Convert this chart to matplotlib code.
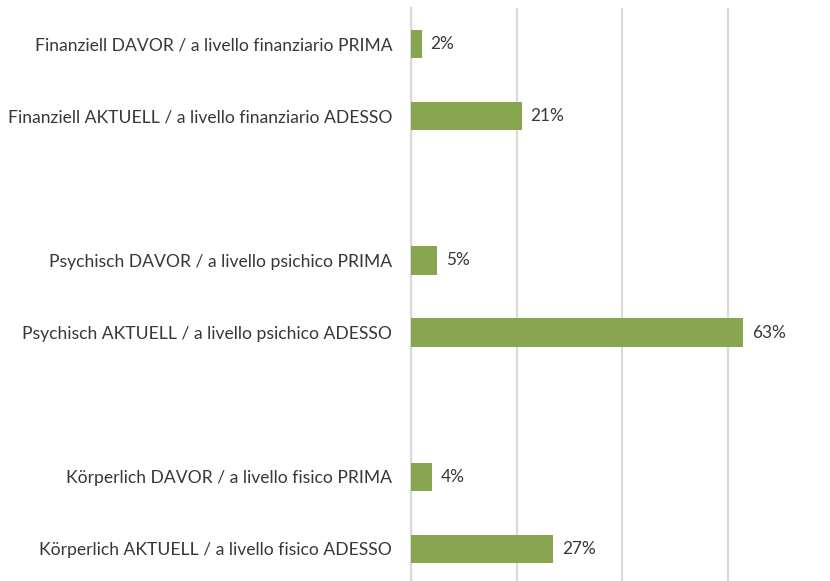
import matplotlib
matplotlib.use("Agg")
import matplotlib.pyplot as plt

categories = [
    "Finanziell DAVOR / a livello finanziario PRIMA",
    "Finanziell AKTUELL / a livello finanziario ADESSO",
    "",
    "Psychisch DAVOR / a livello psichico PRIMA",
    "Psychisch AKTUELL / a livello psichico ADESSO",
    "",
    "Körperlich DAVOR / a livello fisico PRIMA",
    "Körperlich AKTUELL / a livello fisico ADESSO",
]
values = [2, 21, None, 5, 63, None, 4, 27]
value_labels = ["2%", "21%", "", "5%", "63%", "", "4%", "27%"]
xticks = [0, 20, 40, 60, 80]

plt.rcParams['font.family'] = ['Lato', 'DejaVu Sans']

W, H = 830, 581
fig = plt.figure(figsize=(W / 100, H / 100), dpi=100)
left_px, right_px, top_px, bottom_px = 411, 833, 8, 585
ax = fig.add_axes([left_px / W, (H - bottom_px) / H,
                   (right_px - left_px) / W, (bottom_px - top_px) / H])

bar_color = "#88A550"
text_color = "#383838"
grid_color = "#D9D9D9"

ys = list(range(len(categories)))
for y, v, lab in zip(ys, values, value_labels):
    if v is None:
        continue
    ax.barh(y, v, height=0.39, color=bar_color, zorder=3)
    ax.text(v + 1.6, y, lab, va="center", ha="left", fontsize=12.4, color=text_color, zorder=4)

ax.set_ylim(len(categories) - 0.5, -0.5)
ax.set_xlim(0, 80)
ax.set_yticks(ys)
ax.set_yticklabels(categories, fontsize=12.6, color=text_color)
ax.tick_params(axis="y", length=0, pad=13.5)
ax.set_xticks(xticks)
ax.tick_params(axis="x", length=0, labelbottom=False)
ax.grid(axis="x", color=grid_color, linewidth=1.6, zorder=0)
ax.grid(axis="y", visible=False)
for s in ["top", "right", "bottom"]:
    ax.spines[s].set_visible(False)
ax.spines["left"].set_color(grid_color)
ax.spines["left"].set_linewidth(1.6)

fig.savefig("out.png", dpi=100, facecolor="white")
